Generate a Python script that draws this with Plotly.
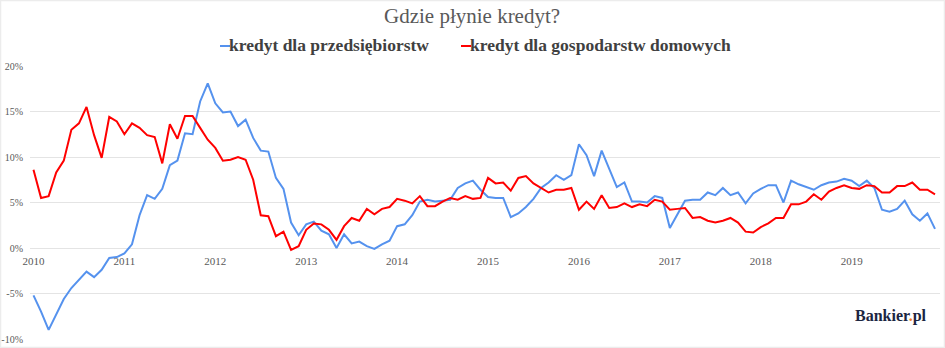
import plotly.graph_objects as go

# Monthly credit growth, y/y %, Jan 2010 - Dec 2019
months = [f"{y}-{m:02d}" for y in range(2010, 2020) for m in range(1, 13)]
year_labels = [str(y) for y in range(2010, 2020)]

kredyt_przedsiebiorstwa = [
    -5.2, -7.0, -9.0, -7.3, -5.6, -4.4, -3.5, -2.6, -3.2, -2.4, -1.1, -1.0,
    -0.6, 0.4, 3.6, 5.8, 5.4, 6.5, 9.1, 9.6, 12.6, 12.5, 16.1, 18.1,
    15.9, 14.9, 15.0, 13.4, 14.1, 12.1, 10.7, 10.6, 7.7, 6.5, 2.8, 1.4,
    2.6, 2.9, 1.9, 1.5, 0.0, 1.5, 0.5, 0.7, 0.2, -0.1, 0.4, 0.8,
    2.4, 2.6, 3.6, 5.1, 5.3, 5.1, 5.2, 5.3, 6.6, 7.1, 7.4, 6.4,
    5.6, 5.5, 5.5, 3.4, 3.8, 4.5, 5.4, 6.6, 7.2, 8.0, 7.5, 8.0,
    11.4, 10.2, 7.9, 10.7, 8.7, 6.7, 7.2, 5.1, 5.1, 5.0, 5.7, 5.5,
    2.2, 3.7, 5.2, 5.3, 5.3, 6.1, 5.8, 6.6, 5.8, 6.1, 4.9, 6.0,
    6.5, 6.9, 6.9, 5.0, 7.4, 7.0, 6.7, 6.4, 6.9, 7.2, 7.3, 7.6,
    7.4, 6.8, 7.4, 6.6, 4.2, 4.0, 4.3, 5.2, 3.7, 3.0, 3.8, 2.1,
]

kredyt_gospodarstwa = [
    8.6, 5.5, 5.7, 8.3, 9.6, 13.0, 13.7, 15.5, 12.4, 9.9, 14.4, 13.9,
    12.5, 13.7, 13.2, 12.4, 12.2, 9.3, 13.6, 12.0, 14.5, 14.5, 13.2, 11.9,
    11.0, 9.6, 9.7, 10.0, 9.7, 7.5, 3.6, 3.5, 1.3, 1.8, -0.2, 0.2,
    2.0, 2.7, 2.6, 2.0, 0.9, 2.4, 3.3, 3.0, 4.3, 3.7, 4.3, 4.5,
    5.4, 5.2, 4.9, 5.7, 4.6, 4.6, 5.1, 5.5, 5.3, 5.7, 5.4, 5.5,
    7.7, 7.1, 7.2, 6.3, 7.7, 7.9, 7.1, 6.6, 6.1, 6.4, 6.4, 6.6,
    4.2, 5.1, 4.3, 5.8, 4.4, 4.5, 4.9, 4.5, 4.8, 4.6, 5.3, 5.1,
    4.2, 4.3, 4.4, 3.3, 3.4, 3.0, 2.8, 3.0, 3.3, 2.8, 1.8, 1.7,
    2.3, 2.7, 3.3, 3.3, 4.8, 4.8, 5.1, 5.9, 5.3, 6.2, 6.6, 6.9,
    6.6, 6.5, 6.9, 6.8, 6.1, 6.1, 6.8, 6.8, 7.2, 6.4, 6.4, 5.9,
]

series_names = ["kredyt dla przedsiębiorstw", "kredyt dla gospodarstw domowych"]
BLUE = "#5592ee"
RED = "#ff0000"

W, H = 945, 348
ML, MR, MT, MB = 30, 5, 66, 9
PW, PH = W - ML - MR, H - MT - MB


def px_x(x):
    return (x - ML) / PW


def px_y(y):
    return (H - MB - y) / PH


fig = go.Figure()
fig.add_trace(go.Scatter(x=months, y=kredyt_przedsiebiorstwa, mode="lines",
                         name=series_names[0], line=dict(color=BLUE, width=2)))
fig.add_trace(go.Scatter(x=months, y=kredyt_gospodarstwa, mode="lines",
                         name=series_names[1], line=dict(color=RED, width=2)))

serif = "Liberation Serif, DejaVu Serif, serif"

annotations = [
    dict(text="Gdzie płynie kredyt?", x=px_x(472), y=px_y(16), xref="paper", yref="paper",
         showarrow=False, xanchor="center", yanchor="middle",
         font=dict(family=serif, size=21, color="#595959")),
    dict(text="<b>" + series_names[0] + "</b>", x=px_x(227), y=px_y(45), xref="paper", yref="paper",
         showarrow=False, xanchor="left", yanchor="middle",
         font=dict(family=serif, size=17.5, color="#404040")),
    dict(text="<b>" + series_names[1] + "</b>", x=px_x(468), y=px_y(45), xref="paper", yref="paper",
         showarrow=False, xanchor="left", yanchor="middle",
         font=dict(family=serif, size=17.5, color="#404040")),
    dict(text="<b>Bankier<span style='color:#f07d1e'>.</span>pl</b>", x=px_x(929), y=px_y(316),
         xref="paper", yref="paper", showarrow=False, xanchor="right", yanchor="middle",
         font=dict(family=serif, size=16, color="#1b2541")),
]

shapes = [
    dict(type="line", xref="paper", yref="paper", x0=px_x(220), x1=px_x(230),
         y0=px_y(46), y1=px_y(46), line=dict(color=BLUE, width=2)),
    dict(type="line", xref="paper", yref="paper", x0=px_x(461), x1=px_x(471),
         y0=px_y(46), y1=px_y(46), line=dict(color=RED, width=2)),
    dict(type="rect", xref="paper", yref="paper", x0=px_x(0.5), x1=px_x(W - 0.5),
         y0=px_y(H - 0.5), y1=px_y(0.5), line=dict(color="#ececec", width=1.5)),
]

fig.update_layout(
    width=W, height=H,
    margin=dict(l=ML, r=MR, t=MT, b=MB, autoexpand=False),
    paper_bgcolor="white", plot_bgcolor="white",
    showlegend=False,
    annotations=annotations,
    shapes=shapes,
    font=dict(family=serif, color="#595959"),
)

fig.update_xaxes(
    type="category",
    range=[-0.46, 119.66],
    tickvals=months[::12], ticktext=year_labels,
    showgrid=False, zeroline=False, showline=False, ticks="",
    anchor="free", position=1 / 3,
    ticklabelstandoff=5, automargin=False,
    tickfont=dict(family=serif, size=11, color="#595959"),
)
fig.update_yaxes(
    range=[-10, 20], tickvals=[-10, -5, 0, 5, 10, 15, 20],
    ticktext=["-10%", "-5%", "0%", "5%", "10%", "15%", "20%"],
    showgrid=True, gridcolor="#e4e4e4", gridwidth=1,
    zeroline=False, showline=False, ticks="",
    ticklabelstandoff=6, automargin=False,
    tickfont=dict(family=serif, size=10, color="#595959"),
)

fig.write_html("out.html")
